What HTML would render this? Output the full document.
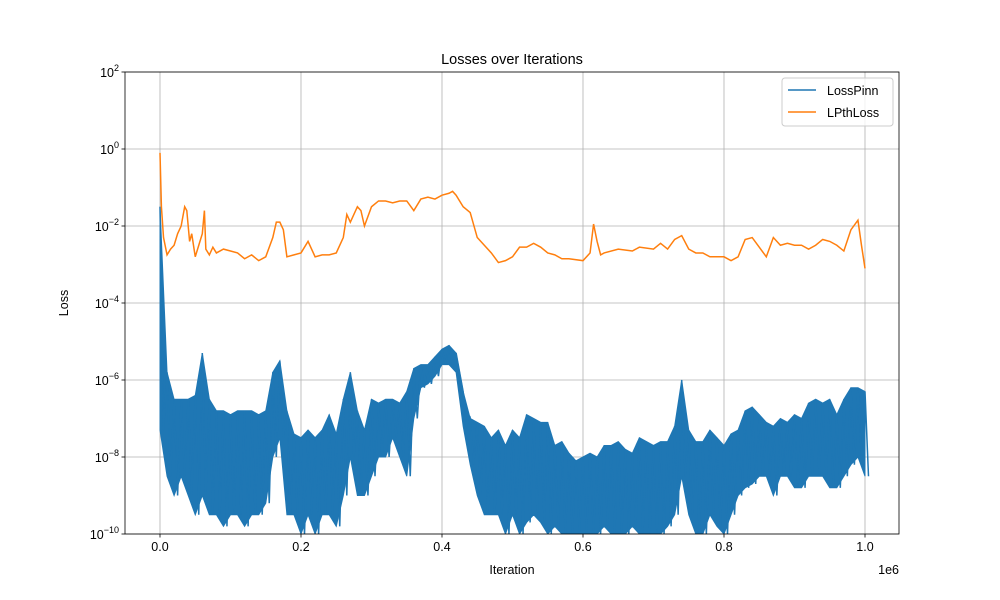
<!DOCTYPE html>
<html><head><meta charset="utf-8"><style>
body{margin:0;background:#fff}
svg{display:block;font-family:"Liberation Sans","DejaVu Sans",sans-serif}
</style></head><body>
<svg id="chart" width="1000" height="600">
<rect width="1000" height="600" fill="#fff"/>
<defs><clipPath id="clip"><rect x="125" y="72" width="774" height="462"/></clipPath></defs>
<g id="grid"></g>
<g id="series" clip-path="url(#clip)"></g>
<rect x="125" y="72" width="774" height="462" fill="none" stroke="#000" stroke-width="0.8"/>
<g id="axes"></g>
<text x="512" y="64" text-anchor="middle" font-size="14.5">Losses over Iterations</text>
<text x="512" y="574" text-anchor="middle" font-size="12.5">Iteration</text>
<text x="68" y="303" text-anchor="middle" font-size="12.5" transform="rotate(-90 68 303)">Loss</text>
<text x="899" y="574" text-anchor="end" font-size="12.5">1e6</text>
<g>
<rect x="782" y="78" width="111" height="48" rx="3" fill="#fff" fill-opacity="0.8" stroke="#ccc"/>
<line x1="788" y1="90" x2="816" y2="90" stroke="#1f77b4" stroke-width="1.5"/>
<text x="827" y="95" font-size="12.5">LossPinn</text>
<line x1="788" y1="112" x2="816" y2="112" stroke="#ff7f0e" stroke-width="1.5"/>
<text x="827" y="117" font-size="12.5">LPthLoss</text>
</g>
</svg>
<script>
const xTicks=[0,0.2,0.4,0.6,0.8,1.0];
const xTickLabels=["0.0","0.2","0.4","0.6","0.8","1.0"];
const yTickExps=[-10,-8,-6,-4,-2,0,2];
const orangeX=[0,0.002,0.005,0.01,0.015,0.02,0.025,0.03,0.035,0.038,0.042,0.045,0.05,0.055,0.06,0.063,0.065,0.07,0.075,0.08,0.09,0.1,0.11,0.12,0.13,0.14,0.15,0.16,0.165,0.17,0.175,0.18,0.19,0.2,0.21,0.22,0.23,0.24,0.25,0.26,0.265,0.27,0.28,0.285,0.29,0.3,0.31,0.32,0.33,0.34,0.35,0.36,0.37,0.38,0.39,0.4,0.41,0.415,0.42,0.43,0.44,0.45,0.46,0.47,0.48,0.49,0.5,0.51,0.52,0.53,0.54,0.55,0.56,0.57,0.58,0.6,0.61,0.615,0.62,0.625,0.63,0.65,0.67,0.68,0.7,0.71,0.72,0.73,0.74,0.75,0.76,0.77,0.78,0.79,0.8,0.81,0.82,0.83,0.84,0.85,0.86,0.87,0.88,0.89,0.9,0.91,0.92,0.93,0.94,0.95,0.96,0.97,0.98,0.99,0.995,1.0];
const orangeLog=[-0.1,-1.5,-2.3,-2.75,-2.6,-2.5,-2.2,-2.0,-1.5,-1.6,-2.4,-2.2,-2.8,-2.5,-2.2,-1.6,-2.6,-2.75,-2.55,-2.7,-2.6,-2.65,-2.7,-2.85,-2.75,-2.9,-2.8,-2.3,-1.9,-1.9,-2.1,-2.8,-2.75,-2.7,-2.4,-2.8,-2.75,-2.75,-2.7,-2.3,-1.7,-1.9,-1.5,-1.6,-2.0,-1.5,-1.35,-1.35,-1.4,-1.35,-1.35,-1.6,-1.3,-1.25,-1.3,-1.2,-1.15,-1.1,-1.2,-1.5,-1.65,-2.3,-2.5,-2.7,-2.95,-2.9,-2.8,-2.55,-2.55,-2.45,-2.55,-2.7,-2.75,-2.85,-2.85,-2.9,-2.7,-1.95,-2.4,-2.75,-2.7,-2.6,-2.65,-2.55,-2.6,-2.45,-2.6,-2.35,-2.25,-2.6,-2.7,-2.7,-2.8,-2.8,-2.8,-2.9,-2.8,-2.35,-2.3,-2.55,-2.8,-2.3,-2.5,-2.45,-2.5,-2.5,-2.6,-2.5,-2.35,-2.4,-2.5,-2.65,-2.1,-1.85,-2.5,-3.1];
const blueX=[0,0.01,0.02,0.03,0.04,0.05,0.06,0.07,0.08,0.09,0.1,0.11,0.12,0.13,0.14,0.15,0.16,0.17,0.18,0.19,0.2,0.21,0.22,0.23,0.24,0.25,0.26,0.27,0.28,0.29,0.3,0.31,0.32,0.33,0.34,0.35,0.36,0.37,0.38,0.39,0.4,0.41,0.42,0.43,0.44,0.45,0.46,0.47,0.48,0.49,0.5,0.51,0.52,0.53,0.54,0.55,0.56,0.57,0.58,0.59,0.6,0.61,0.62,0.63,0.64,0.65,0.66,0.67,0.68,0.69,0.7,0.71,0.72,0.73,0.74,0.75,0.76,0.77,0.78,0.79,0.8,0.81,0.82,0.83,0.84,0.85,0.86,0.87,0.88,0.89,0.9,0.91,0.92,0.93,0.94,0.95,0.96,0.97,0.98,0.99,1.0];
const blueHiLog=[-1.5,-5.8,-6.5,-6.5,-6.5,-6.4,-5.3,-6.5,-6.8,-6.8,-6.9,-6.8,-6.8,-6.8,-6.9,-6.8,-5.8,-5.5,-6.8,-7.4,-7.5,-7.3,-7.5,-7.3,-6.9,-7.4,-6.5,-5.8,-6.8,-7.3,-6.5,-6.6,-6.5,-6.5,-6.6,-6.3,-5.7,-5.6,-5.6,-5.4,-5.2,-5.1,-5.3,-6.3,-7.0,-7.1,-7.2,-7.5,-7.3,-7.7,-7.3,-7.5,-6.9,-7.0,-7.1,-7.1,-7.7,-7.6,-7.9,-8.1,-8.0,-7.9,-8.0,-7.7,-7.7,-7.6,-7.8,-7.9,-7.5,-7.6,-7.7,-7.6,-7.6,-7.2,-6.0,-7.3,-7.6,-7.6,-7.3,-7.5,-7.7,-7.4,-7.3,-6.8,-6.7,-6.9,-7.1,-7.2,-7.0,-7.1,-6.9,-7.0,-6.6,-6.5,-6.6,-6.5,-6.9,-6.5,-6.2,-6.2,-6.3];
const blueLoLog=[-7.3,-8.5,-9.0,-8.5,-9.0,-9.5,-9.0,-9.5,-9.5,-9.8,-9.5,-9.5,-9.8,-9.5,-9.5,-9.2,-8.0,-7.5,-9.5,-9.5,-10,-9.5,-10,-9.5,-9.5,-9.8,-9.0,-8.0,-9.0,-9.0,-8.5,-8.0,-8.0,-7.5,-8.0,-8.5,-7.0,-6.2,-6.1,-5.9,-5.6,-5.6,-5.8,-7.2,-8.2,-9.0,-9.5,-9.5,-9.5,-10,-9.5,-10,-9.7,-9.5,-9.7,-10,-9.8,-10,-10,-10,-10,-10,-10,-9.8,-10,-10,-10,-9.8,-10,-10,-10,-10,-9.8,-9.5,-8.5,-9.5,-10,-10,-9.5,-9.8,-10,-9.5,-9.0,-8.8,-8.7,-8.5,-8.5,-9.0,-8.5,-8.5,-8.8,-8.8,-8.5,-8.5,-8.5,-8.8,-8.8,-8.5,-8.2,-8.0,-8.5];

const NS="http://www.w3.org/2000/svg";
const X0=125,X1=899,Y0=72,Y1=534;
function sx(v){return 160+v*705;}
function sy(e){return Y1-(e+10)*(Y1-Y0)/12;}
function mk(tag,attrs,parent){const el=document.createElementNS(NS,tag);for(const k in attrs)el.setAttribute(k,attrs[k]);parent.appendChild(el);return el;}
const grid=document.getElementById('grid'),axes=document.getElementById('axes'),series=document.getElementById('series');
xTicks.forEach((t,i)=>{
  const x=sx(t);
  const g=mk('line',{x1:x,x2:x,y1:Y0,y2:Y1,stroke:'#b0b0b0','stroke-width':0.8},grid);
  
  
  mk('line',{x1:x,x2:x,y1:Y1,y2:Y1+3.5,stroke:'#000','stroke-width':0.8},axes);
  const tx=mk('text',{x:x,y:Y1+17,'text-anchor':'middle','font-size':12.5},axes);
  tx.textContent=xTickLabels[i];
  
  
});
yTickExps.forEach(e=>{
  const y=sy(e);
  const g=mk('line',{x1:X0,x2:X1,y1:y,y2:y,stroke:'#b0b0b0','stroke-width':0.8},grid);
  
  
  mk('line',{x1:X0-3.5,x2:X0,y1:y,y2:y,stroke:'#000','stroke-width':0.8},axes);
  const tx=mk('text',{x:X0-6,y:y+5,'text-anchor':'end','font-size':12.5},axes);
  tx.innerHTML='10<tspan dy="-6" font-size="9">'+(e<0?'\u2212'+(-e):e)+'</tspan>';
  
  
});
let pts=[];
blueX.forEach((v,i)=>pts.push(sx(v)+','+sy(blueHiLog[i])));
for(let i=blueX.length-1;i>=0;i--)pts.push(sx(blueX[i])+','+sy(blueLoLog[i]));
const band=mk('polygon',{points:pts.join(' '),fill:'#1f77b4','fill-opacity':1,stroke:'#1f77b4','stroke-width':1},series);


let zz=[];
blueX.forEach((v,i)=>{zz.push(sx(v)+','+sy(blueHiLog[i]));zz.push((sx(v)+3.5)+','+sy(blueLoLog[i]));});
const bl=mk('polyline',{points:zz.join(' '),fill:'none',stroke:'#1f77b4','stroke-width':1.5},series);


const ol=mk('polyline',{points:orangeX.map((v,i)=>sx(v)+','+sy(orangeLog[i])).join(' '),fill:'none',stroke:'#ff7f0e','stroke-width':1.5},series);


</script>
</body></html>
